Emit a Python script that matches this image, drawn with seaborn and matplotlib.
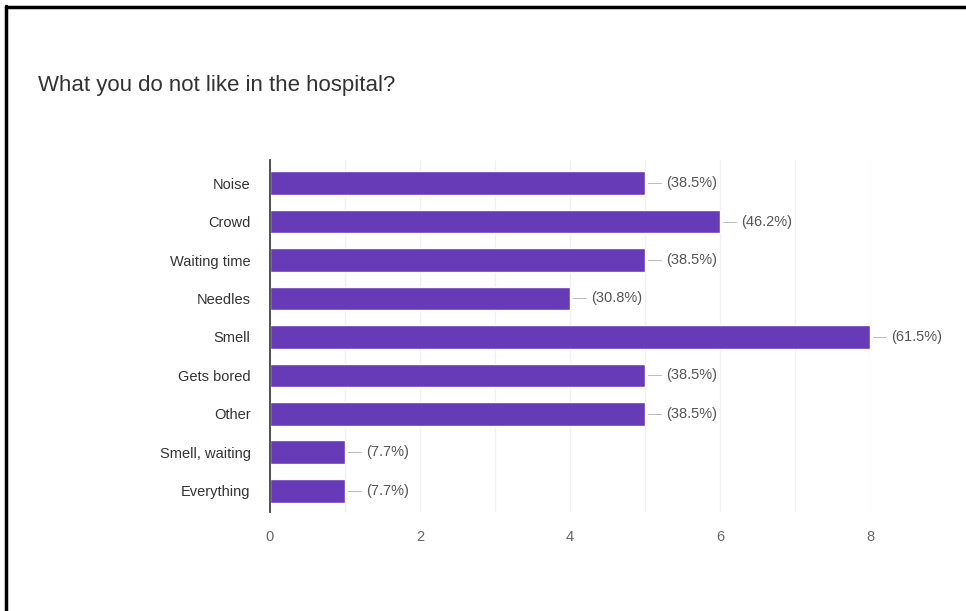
"""Google Forms style summary: what patients dislike in the hospital."""
import matplotlib
matplotlib.use("Agg")
import matplotlib.pyplot as plt
import seaborn as sns
import pandas as pd
from matplotlib.lines import Line2D

# Data
categories = ["Noise", "Crowd", "Waiting time", "Needles", "Smell",
              "Gets bored", "Other", "Smell, waiting", "Everything"]
counts = [5, 6, 5, 4, 8, 5, 5, 1, 1]
percents = ["38.5%", "46.2%", "38.5%", "30.8%", "61.5%",
            "38.5%", "38.5%", "7.7%", "7.7%"]
x_ticks = [0, 2, 4, 6, 8]

df = pd.DataFrame({"answer": categories, "count": counts})

sns.set_theme(style="white")
plt.rcParams["font.family"] = ["Liberation Sans", "DejaVu Sans"]

W, H = 966, 611
fig = plt.figure(figsize=(W / 100, H / 100), dpi=100)
fig.patch.set_facecolor("white")

# black frame on top and left like the screenshot
fig.add_artist(Line2D([6 / W, 6 / W], [0, 1 - 6 / H], color="black", lw=2.5))
fig.add_artist(Line2D([6 / W, 1], [1 - 7 / H, 1 - 7 / H], color="black", lw=2.5))

fig.text(38 / W, 1 - 86 / H, "What you do not like in the hospital?",
         fontsize=16, color="#333333", va="center", ha="left")

ax = fig.add_axes([270 / W, (H - 512) / H, 600 / W, 352 / H])
sns.barplot(data=df, x="count", y="answer", order=categories, color="#673ab7",
            width=0.62, saturation=1, ax=ax, orient="h")

ax.set_xlim(0, 8)
ax.set_ylim(len(categories) - 0.45, -0.6)
ax.set_xticks(x_ticks)
ax.set_xticks(range(0, 9), minor=True)
ax.grid(axis="x", which="both", color="#f0f0f0", lw=1)
ax.set_axisbelow(True)
for side in ["top", "right", "bottom"]:
    ax.spines[side].set_visible(False)
ax.spines["left"].set_color("#333333")
ax.spines["left"].set_linewidth(1.2)
ax.set_xlabel("")
ax.set_ylabel("")
ax.tick_params(axis="y", length=0, pad=14, labelsize=10.5, labelcolor="#333333")
ax.tick_params(axis="x", which="both", length=0, pad=13, labelsize=10.5,
               labelcolor="#666666")

# small leader dash + percentage after each bar
for i, (c, p) in enumerate(zip(counts, percents)):
    ax.annotate("—", xy=(c, i), xytext=(3, 0), textcoords="offset pixels",
                ha="left", va="center", fontsize=10, color="#bbbbbb")
    ax.annotate(f"({p})", xy=(c, i), xytext=(21, 0), textcoords="offset pixels",
                ha="left", va="center", fontsize=10.5, color="#555555")

fig.savefig("out.png", dpi=100, facecolor="white")
